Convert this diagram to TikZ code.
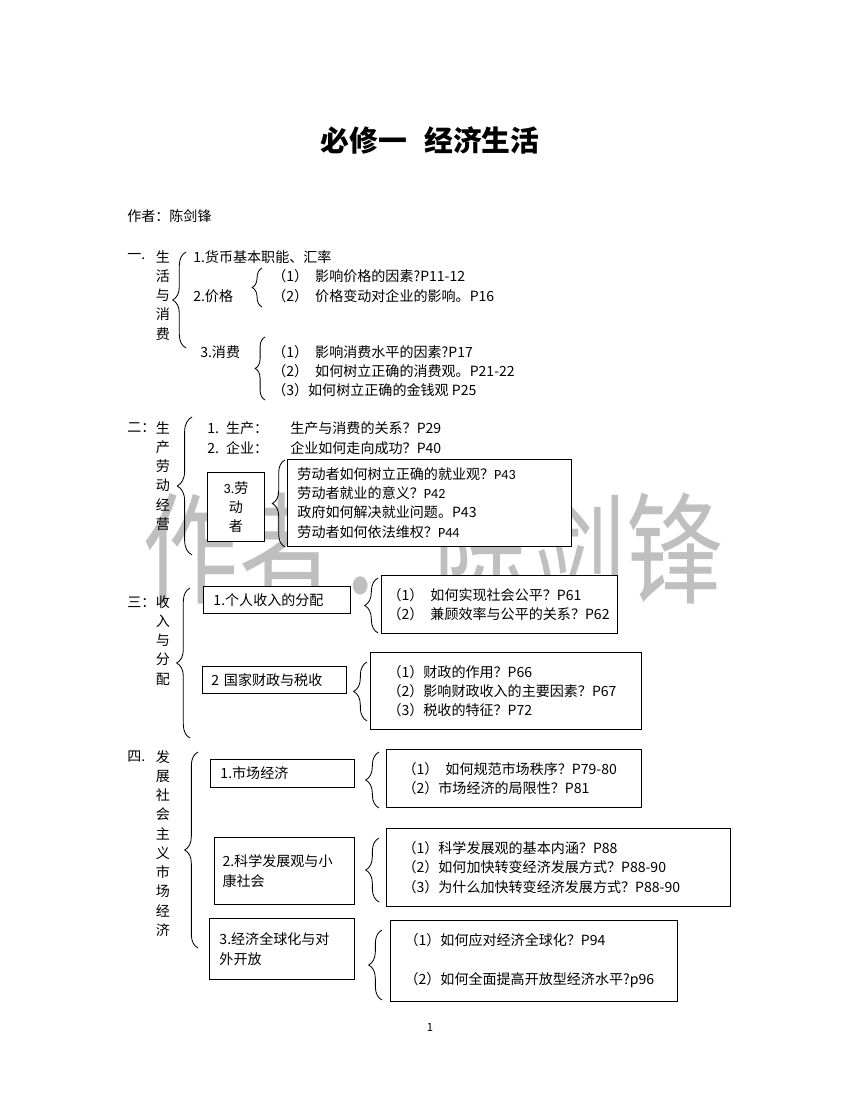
\documentclass[tikz,border=0pt]{standalone}
\usepackage{fontspec}
\setmainfont{Noto Sans CJK SC}
\newfontfamily\calib{Carlito}
\usetikzlibrary{decorations.pathreplacing}

\begin{document}
\begin{tikzpicture}[x=0.7116pt, y=-0.7116pt, font=\fontsize{10}{13.7}\selectfont,
    txt/.style={anchor=west, inner sep=0pt},
    col/.style={anchor=north, inner sep=0pt, align=center},
    box/.style={draw, fill=white, anchor=north west, align=left, inner ysep=0pt, line width=0.7pt},
    brc/.style={decorate, decoration={brace, amplitude=#1}, line width=0.6pt},
    brc/.default=9.5pt]
  \useasboundingbox[fill=white] (0,0) rectangle (860,1113);
  \node[text=black!25, font=\fontsize{86}{86}\selectfont, xscale=0.8] (wm) at (433,548) {作者：陈剑锋};

  \node[font=\fontsize{20.5}{24}\selectfont\bfseries] (title) at (430,140) {必修一\hspace{0.6em}经济生活};
  \node[txt] (author) at (127,216) {作者：陈剑锋};

  \node[txt] (n1) at (127,257) {一.};
  \node[col] (c1) at (163,250) {生\\活\\与\\消\\费};
  \draw[brc] (186,348) -- (186,252);
  \node[txt] (a1) at (193,257) {1.货币基本职能、汇率};
  \node[txt] (a2) at (193,296) {2.价格};
  \draw[brc=7pt] (262,307) -- (262,268);
  \node[txt] (a21) at (272,276) {（1）\hspace{0.5em}影响价格的因素?P11-12};
  \node[txt] (a22) at (272,296) {（2）\hspace{0.5em}价格变动对企业的影响。P16};
  \node[txt] (a3) at (200,352) {3.消费};
  \draw[brc=7pt] (265,400) -- (265,337);
  \node[txt] (a31) at (272,352) {（1）\hspace{0.5em}影响消费水平的因素?P17};
  \node[txt] (a32) at (272,371) {（2）\hspace{0.5em}如何树立正确的消费观。P21-22};
  \node[txt] (a33) at (272,390) {（3）如何树立正确的金钱观 P25};

  \node[txt] (n2) at (127,428) {二：};
  \node[col] (c2) at (163,421) {生\\产\\劳\\动\\经\\营};
  \draw[brc=10.5pt] (192,555) -- (192,417);
  \node[txt] (b1) at (207,428) {1.\hspace{0.5em}生产：};
  \node[txt] (b1q) at (290,428) {生产与消费的关系？P29};
  \node[txt] (b2) at (207,448) {2.\hspace{0.5em}企业：};
  \node[txt] (b2q) at (290,448) {企业如何走向成功？P40};
  \node[box, align=center, inner xsep=0pt, minimum width=40.6pt, minimum height=49.1pt] (b3) at (207,472) {{\calib 3.}劳\\动\\者};
  \draw[brc=9pt] (285,547) -- (285,460);
  \node[box, inner xsep=7.1pt, text width=187.9pt, minimum height=61.9pt] (b3q) at (287,459)
    {劳动者如何树立正确的就业观？{\calib P43}\\劳动者就业的意义？{\calib P42}\\政府如何解决就业问题。P43\\劳动者如何依法维权？{\calib P44}};

  \node[txt] (n3) at (127,602) {三：};
  \node[col] (c3) at (163,595) {收\\入\\与\\分\\配};
  \draw[brc] (190,738) -- (190,588);
  \node[box, inner xsep=7.1pt, text width=90.4pt, minimum height=19.2pt] (d1) at (203,586) {1.个人收入的分配};
  \draw[brc] (378,633) -- (378,578);
  \node[box, inner xsep=4.3pt, text width=159.4pt, minimum height=41.3pt] (d1q) at (381,575)
    {（1）\hspace{0.5em}如何实现社会公平？P61\\（2）\hspace{0.5em}兼顾效率与公平的关系？P62};
  \node[box, inner xsep=6.4pt, text width=89.7pt, minimum height=19.2pt] (d2) at (202,666) {2 国家财政与税收};
  \draw[brc] (367,721) -- (367,662);
  \node[box, inner xsep=12.1pt, text width=168.6pt, minimum height=54.8pt] (d2q) at (370,652)
    {（1）财政的作用？P66\\（2）影响财政收入的主要因素？P67\\（3）税收的特征？P72};

  \node[txt] (n4) at (127,757) {四.};
  \node[col] (c4) at (163,750) {发\\展\\社\\会\\主\\义\\市\\场\\经\\济};
  \draw[brc] (198,948) -- (198,752);
  \node[box, inner xsep=7.1pt, text width=88.2pt, minimum height=19.9pt] (e1) at (210,759) {1.市场经济};
  \draw[brc] (379,808) -- (379,752);
  \node[box, inner xsep=11.4pt, text width=158.7pt, minimum height=41.3pt] (e1q) at (386,749)
    {（1）\hspace{0.5em}如何规范市场秩序？P79-80\\（2）市场经济的局限性？P81};
  \node[box, inner xsep=5.7pt, text width=88.2pt, minimum height=47.7pt] (e2) at (214,837) {2.科学发展观与小\\康社会};
  \draw[brc] (379,902) -- (379,838);
  \node[box, inner xsep=11.4pt, text width=222pt, minimum height=55.5pt] (e2q) at (386,828)
    {（1）科学发展观的基本内涵？P88\\（2）如何加快转变经济发展方式？P88-90\\（3）为什么加快转变经济发展方式？P88-90};
  \node[box, inner xsep=7.1pt, text width=89pt, minimum height=43.4pt] (e3) at (209,918) {3.经济全球化与对\\外开放};
  \draw[brc] (382,1000) -- (382,930);
  \node[box, inner xsep=10pt, text width=184.3pt, minimum height=57.6pt] (e3q) at (390,920)
    {（1）如何应对经济全球化？P94\\[14pt]（2）如何全面提高开放型经济水平?p96};

  \node[font=\fontsize{8}{9}\selectfont] (pg) at (430,1027) {1};
\end{tikzpicture}
\end{document}
